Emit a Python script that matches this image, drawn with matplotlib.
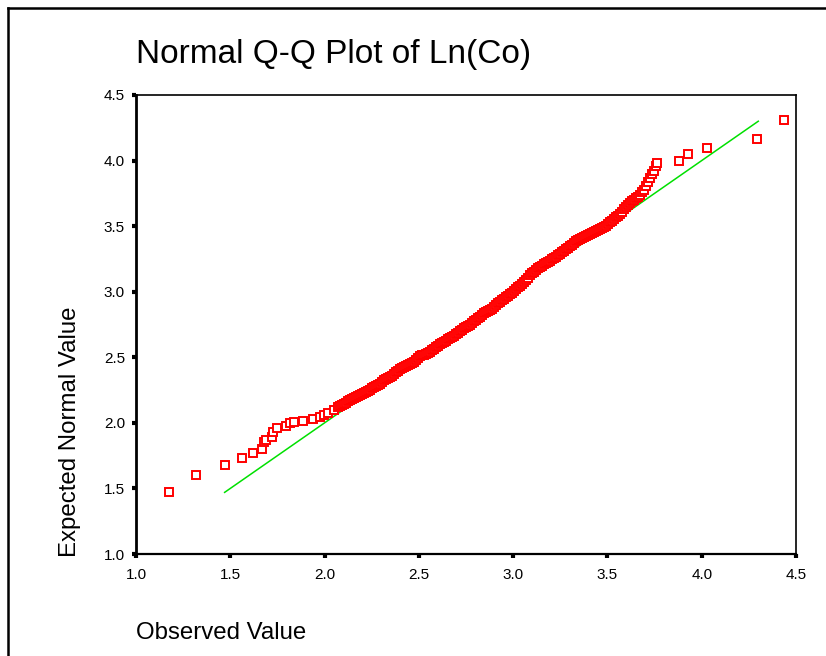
import matplotlib.pyplot as plt
from matplotlib.lines import Line2D

plt.rcParams['font.family'] = ['Liberation Sans', 'DejaVu Sans']

# lower tail
low_obs = [1.175, 1.318, 1.472, 1.562, 1.620, 1.668, 1.679, 1.689, 1.721, 1.727,
           1.748, 1.795, 1.817, 1.838, 1.886, 1.939, 1.976, 1.997, 2.018, 2.050]
low_exp = [1.473, 1.602, 1.679, 1.732, 1.770, 1.801, 1.854, 1.869, 1.892, 1.930,
           1.961, 1.976, 1.999, 2.005, 2.012, 2.029, 2.045, 2.060, 2.075, 2.098]

# dense middle band
mid_obs = [2.071, 2.082, 2.092, 2.103, 2.114, 2.124, 2.135, 2.145, 2.156, 2.167,
           2.177, 2.188, 2.199, 2.209, 2.220, 2.230, 2.241, 2.252, 2.262, 2.273,
           2.283, 2.294, 2.305, 2.315, 2.326, 2.336, 2.347, 2.358, 2.368, 2.379,
           2.389, 2.400, 2.411, 2.421, 2.432, 2.442, 2.453, 2.464, 2.474, 2.485,
           2.495, 2.506, 2.517, 2.527, 2.538, 2.548, 2.559, 2.570, 2.580, 2.591,
           2.601, 2.612, 2.623, 2.633, 2.644, 2.654, 2.665, 2.676, 2.686, 2.697,
           2.708, 2.718, 2.729, 2.739, 2.750, 2.760, 2.771, 2.782, 2.792, 2.803,
           2.814, 2.824, 2.835, 2.845, 2.856, 2.866, 2.877, 2.888, 2.898, 2.909,
           2.920, 2.930, 2.941, 2.951, 2.962, 2.973, 2.983, 2.994, 3.005, 3.015,
           3.026, 3.036, 3.047, 3.057, 3.068, 3.079, 3.089, 3.100, 3.111, 3.121,
           3.132, 3.142, 3.153, 3.164, 3.174, 3.185, 3.195, 3.206, 3.217, 3.227,
           3.238, 3.248, 3.259, 3.270, 3.280, 3.291, 3.302, 3.312, 3.323, 3.333,
           3.344, 3.355, 3.365, 3.376, 3.386, 3.397, 3.408, 3.418, 3.429, 3.439,
           3.450, 3.461, 3.471, 3.482, 3.492, 3.503, 3.514, 3.524, 3.535, 3.545,
           3.556, 3.567, 3.577, 3.588, 3.598, 3.609, 3.620, 3.630, 3.641, 3.651,
           3.662, 3.673, 3.683, 3.694, 3.704, 3.715, 3.726, 3.736, 3.747, 3.757,
           3.763]
mid_exp = [2.121, 2.128, 2.136, 2.144, 2.151, 2.163, 2.174, 2.182, 2.189, 2.197,
           2.205, 2.212, 2.220, 2.228, 2.235, 2.243, 2.250, 2.262, 2.273, 2.281,
           2.289, 2.300, 2.312, 2.323, 2.334, 2.342, 2.350, 2.361, 2.373, 2.384,
           2.395, 2.407, 2.418, 2.426, 2.434, 2.441, 2.449, 2.456, 2.464, 2.479,
           2.495, 2.506, 2.517, 2.521, 2.525, 2.532, 2.540, 2.552, 2.563, 2.575,
           2.586, 2.598, 2.609, 2.617, 2.624, 2.636, 2.647, 2.655, 2.662, 2.674,
           2.685, 2.697, 2.708, 2.720, 2.731, 2.739, 2.746, 2.762, 2.777, 2.788,
           2.800, 2.811, 2.822, 2.834, 2.845, 2.853, 2.861, 2.872, 2.883, 2.899,
           2.914, 2.925, 2.937, 2.948, 2.960, 2.971, 2.983, 2.994, 3.005, 3.021,
           3.036, 3.047, 3.059, 3.074, 3.089, 3.108, 3.127, 3.139, 3.150, 3.166,
           3.181, 3.188, 3.196, 3.208, 3.219, 3.227, 3.234, 3.246, 3.257, 3.268,
           3.280, 3.291, 3.303, 3.314, 3.326, 3.337, 3.349, 3.360, 3.371, 3.383,
           3.394, 3.402, 3.410, 3.417, 3.425, 3.432, 3.440, 3.448, 3.455, 3.463,
           3.471, 3.478, 3.486, 3.493, 3.501, 3.516, 3.532, 3.543, 3.554, 3.566,
           3.577, 3.593, 3.608, 3.631, 3.646, 3.661, 3.676, 3.692, 3.703, 3.715,
           3.722, 3.737, 3.760, 3.779, 3.806, 3.837, 3.867, 3.898, 3.924, 3.959,
           3.981]

# upper tail
high_obs = [3.880, 3.927, 4.028, 4.293, 4.436]
high_exp = [3.997, 4.050, 4.096, 4.164, 4.309]

observed = low_obs + mid_obs + high_obs
expected = low_exp + mid_exp + high_exp

# reference line y = x
ref_x = [1.47, 4.30]

ticks = [1.0, 1.5, 2.0, 2.5, 3.0, 3.5, 4.0, 4.5]

fig = plt.figure(figsize=(8.26, 6.56), dpi=100)
ax = fig.add_axes([136 / 826, 102 / 656, 660 / 826, 459 / 656])

ax.plot(ref_x, ref_x, color='#00e000', lw=1.1, zorder=1)
ax.plot(observed, expected, ls='none', marker='s', ms=6.3, mfc='white',
        mec='#ff0000', mew=1.4, zorder=2)

ax.set_xlim(1.0, 4.5)
ax.set_ylim(1.0, 4.5)
ax.set_xticks(ticks)
ax.set_yticks(ticks)
ax.set_xticklabels([f'{t:.1f}' for t in ticks])
ax.set_yticklabels([f'{t:.1f}' for t in ticks])
ax.tick_params(direction='out', length=3, width=3, labelsize=11, color='black')
ax.tick_params(axis='x', pad=7)
ax.tick_params(axis='y', pad=5)

for side in ['top', 'right', 'bottom']:
    ax.spines[side].set_linewidth(1.2)
ax.spines['left'].set_linewidth(2.0)
ax.spines['bottom'].set_linewidth(1.6)

fig.text(136 / 826, 1 - 54 / 656, 'Normal Q-Q Plot of Ln(Co)', fontsize=24,
         ha='left', va='center')
fig.text(136 / 826, 1 - 633 / 656, 'Observed Value', fontsize=17.3,
         ha='left', va='center')
fig.text(70 / 826, 1 - 432 / 656, 'Expected Normal Value', fontsize=17.3,
         ha='center', va='center', rotation=90)

# outer frame lines (top and left)
fig.add_artist(Line2D([8 / 826, 1], [1 - 8 / 656, 1 - 8 / 656], color='black', lw=1.8))
fig.add_artist(Line2D([8 / 826, 8 / 826], [0, 1 - 8 / 656], color='black', lw=1.8))

fig.savefig('out.png', dpi=100)
